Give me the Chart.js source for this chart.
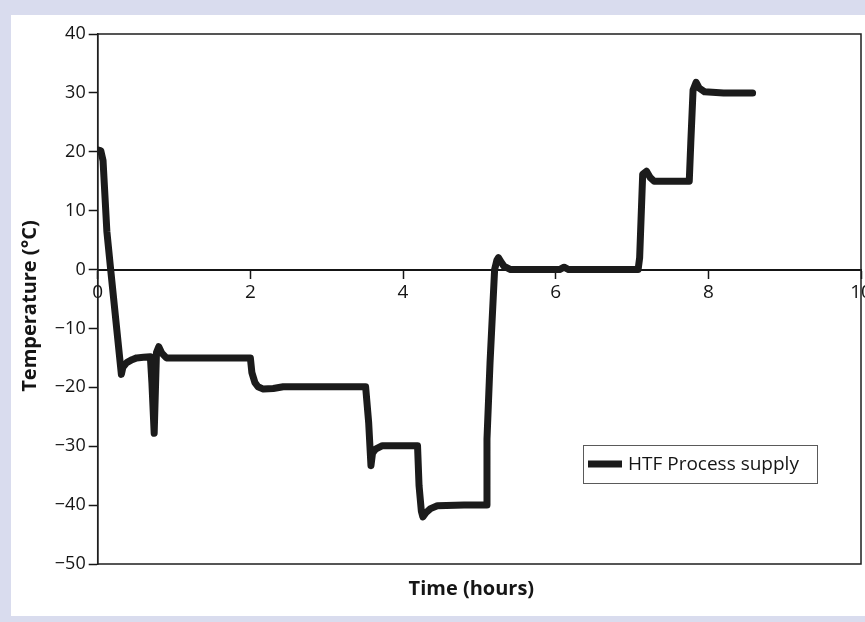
<!DOCTYPE html>
<html>
<head>
<meta charset="utf-8">
<script src="https://cdn.jsdelivr.net/npm/chart.js@4.4.1/dist/chart.umd.min.js"></script>
<style>
  html, body { margin: 0; padding: 0; width: 865px; height: 622px; overflow: hidden; background: #d9dcee; }
  #panel { position: absolute; left: 11px; top: 15px; width: 854px; height: 601px; background: #ffffff; }
  canvas { display: block; }
</style>
</head>
<body>
<div id="panel"><canvas id="chart" width="854" height="601"></canvas></div>
<script>
// Heat-transfer-fluid supply temperature over the test run
const timeHours = [
  0.00, 0.04, 0.07, 0.12, 0.17, 0.31, 0.33, 0.38, 0.45, 0.51, 0.60, 0.69,
  0.71, 0.74, 0.77, 0.80, 0.84, 0.90, 1.20, 1.60, 2.00, 2.02, 2.06, 2.10,
  2.17, 2.30, 2.43, 2.70, 3.10, 3.51, 3.55, 3.58, 3.60, 3.64, 3.73, 3.90,
  4.19, 4.21, 4.24, 4.26, 4.30, 4.36, 4.45, 4.80, 5.09, 5.10, 5.14, 5.20,
  5.23, 5.25, 5.28, 5.32, 5.41, 5.70, 6.05, 6.11, 6.17, 6.60, 7.08, 7.10,
  7.14, 7.19, 7.24, 7.29, 7.50, 7.75, 7.77, 7.80, 7.84, 7.88, 7.95, 8.20,
  8.58
];
const supplyTempC = [
  20.3, 20.2, 18.5, 6.5, 0.0, -17.8, -16.6, -15.8, -15.3, -15.0, -14.9, -14.8,
  -19.2, -27.8, -14.1, -13.1, -14.2, -15.0, -15.0, -15.0, -15.0, -17.5, -19.2, -19.9,
  -20.3, -20.2, -19.9, -19.9, -19.9, -19.9, -26.0, -33.3, -31.2, -30.5, -29.9, -29.9,
  -29.9, -36.7, -41.0, -42.0, -41.3, -40.6, -40.1, -40.0, -40.0, -28.8, -15.8, 0.0,
  1.6, 2.0, 1.4, 0.6, 0.0, 0.0, 0.0, 0.4, 0.0, 0.0, 0.0, 2.0,
  16.2, 16.7, 15.6, 15.0, 15.0, 15.0, 21.5, 30.5, 31.8, 30.8, 30.2, 30.0,
  30.0
];
const seriesName = 'HTF Process supply';
const xAxisTitle = 'Time (hours)';
const yAxisTitle = 'Temperature (°C)';
const xRange = { min: 0, max: 10, step: 2 };
const yRange = { min: -50, max: 40, step: 10 };

const FONT = "'Open Sans', 'Noto Sans', sans-serif";
const INK = '#151515';
const LINE = '#1b1b1b';

// Plot frame, axis titles and boxed legend
const decorations = {
  id: 'decorations',
  afterDraw(chart) {
    const { ctx, chartArea: a } = chart;
    ctx.save();
    // frame around the plotting area
    ctx.strokeStyle = '#1e1e1e';
    ctx.lineWidth = 1.5;
    ctx.strokeRect(a.left, a.top, a.right - a.left, a.bottom - a.top);

    ctx.fillStyle = INK;
    ctx.font = "bold 20px " + FONT;
    ctx.textAlign = 'center';
    ctx.textBaseline = 'middle';
    // x-axis title below the frame
    ctx.fillText(xAxisTitle, (a.left + a.right) / 2 - 8, a.bottom + 25);
    // y-axis title, rotated, left of the tick labels
    ctx.save();
    ctx.translate(a.left - 67, (a.top + a.bottom) / 2 + 7);
    ctx.rotate(-Math.PI / 2);
    ctx.fillText(yAxisTitle, 0, 0);
    ctx.restore();

    // legend box in the lower right of the plot
    const ds = chart.data.datasets[0];
    const bx = a.right - 278, by = a.top + 411, bw = 234, bh = 38;
    ctx.fillStyle = '#ffffff';
    ctx.fillRect(bx, by, bw, bh);
    ctx.strokeStyle = '#5a5a5a';
    ctx.lineWidth = 1;
    ctx.strokeRect(bx + 0.5, by + 0.5, bw, bh);
    ctx.strokeStyle = ds.borderColor;
    ctx.lineWidth = ds.borderWidth;
    ctx.lineCap = 'butt';
    ctx.beginPath();
    ctx.moveTo(bx + 5, by + bh / 2);
    ctx.lineTo(bx + 39, by + bh / 2);
    ctx.stroke();
    ctx.fillStyle = INK;
    ctx.font = "19px " + FONT;
    ctx.textAlign = 'left';
    ctx.fillText(ds.label, bx + 45, by + bh / 2 + 1);
    ctx.restore();
  }
};

new Chart(document.getElementById('chart'), {
  type: 'line',
  data: {
    datasets: [{
      label: seriesName,
      data: timeHours.map((t, i) => ({ x: t, y: supplyTempC[i] })),
      borderColor: LINE,
      backgroundColor: LINE,
      borderWidth: 7,
      borderJoinStyle: 'round',
      borderCapStyle: 'round',
      pointRadius: 0,
      tension: 0,
      fill: false
    }]
  },
  options: {
    responsive: false,
    animation: false,
    events: [],
    layout: { padding: { left: 0, top: 19, right: 4, bottom: 52 } },
    plugins: { legend: { display: false }, tooltip: { enabled: false } },
    scales: {
      x: {
        type: 'linear',
        min: xRange.min,
        max: xRange.max,
        position: { y: 0 },
        afterFit(scale) {
          scale.paddingLeft = 0;
          scale.paddingRight = 0;
        },
        ticks: {
          stepSize: xRange.step,
          autoSkip: false,
          maxRotation: 0,
          padding: 4,
          color: INK,
          font: { family: FONT, size: 19 }
        },
        grid: { drawOnChartArea: false, drawTicks: true, tickLength: 8, tickWidth: 1.5, tickColor: INK },
        border: { display: true, color: INK, width: 2 }
      },
      y: {
        type: 'linear',
        min: yRange.min,
        max: yRange.max,
        afterFit(scale) { scale.width = 86.7; },
        ticks: {
          stepSize: yRange.step,
          padding: 3,
          color: INK,
          font: { family: FONT, size: 18 },
          callback: v => String(v).replace('-', '\u2212')
        },
        grid: { drawOnChartArea: false, drawTicks: true, tickLength: 9, tickWidth: 1.5, tickColor: INK },
        border: { display: true, color: INK, width: 1.5 },
        title: { display: false }
      }
    }
  },
  plugins: [decorations]
});
</script>
</body>
</html>
